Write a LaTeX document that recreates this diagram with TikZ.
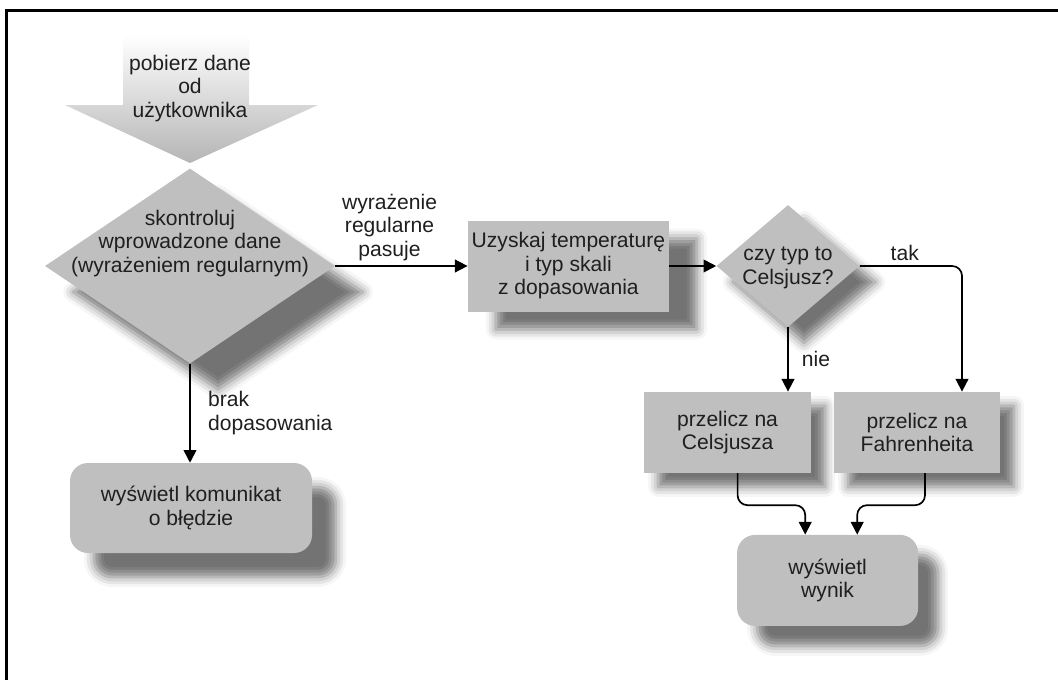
\documentclass[tikz,border=0pt]{standalone}
\usepackage{fontspec}
\setmainfont{Liberation Sans}
\usetikzlibrary{shapes.geometric,arrows.meta,shadows.blur}

\definecolor{boxgray}{gray}{0.75}
\tikzset{soft shadow/.style 2 args={blur shadow={shadow xshift=#1, shadow yshift=-#2, shadow blur radius=.25cm, shadow opacity=55}}}
\tikzstyle{every node}=[font=\fontsize{15}{16.7}\selectfont, align=center, text=black!88]
\tikzstyle{stepbox}=[rectangle, fill=boxgray, inner sep=0pt]
\tikzstyle{endbox}=[stepbox, rounded corners=.45cm]
\tikzstyle{decision}=[diamond, fill=boxgray, inner sep=0pt]

\begin{document}
\begin{tikzpicture}[>={Triangle[length=9pt,width=9pt]}]
    \useasboundingbox (0,0) rectangle (26.45,-16.975);
    \draw[line width=2.1pt] (0.1625,-17.2) -- (0.1625,-0.2625) -- (26.6,-0.2625);

    % input arrow
    \shade[top color=white, bottom color=black!29] (3.075,-0.875) -- (6.225,-0.875) -- (6.225,-2.625) -- (7.95,-2.625)
        -- (4.75,-4.075) -- (1.625,-2.625) -- (3.075,-2.625) -- cycle;
    \node (In) at (4.75,-2.21) {pobierz dane\\od\\użytkownika};

    \node[decision, soft shadow={.7cm}{.65cm}, minimum width=7.25cm, minimum height=4.875cm] (Chk) at (4.75,-6.65) {};
    \node (ChkTxt) at (4.75,-6.08) {skontroluj\\wprowadzone dane\\(wyrażeniem regularnym)};
    \node[stepbox, soft shadow={.7cm}{.45cm}, minimum width=5.025cm, minimum height=2.275cm] (Tmp) at (14.21,-6.65) {Uzyskaj temperaturę\\i typ skali\\z dopasowania};
    \node[decision, soft shadow={.4cm}{.4cm}, minimum width=3.575cm, minimum height=3.05cm] (Typ) at (19.7,-6.65) {};
    \node (TypTxt) at (19.7,-6.7) {czy typ to\\Celsjusz?};
    \node[stepbox, soft shadow={.35cm}{.35cm}, minimum width=4.175cm, minimum height=2.025cm] (C) at (18.19,-10.81) {przelicz na\\Celsjusza};
    \node[stepbox, soft shadow={.35cm}{.35cm}, minimum width=4.15cm, minimum height=2.025cm] (F) at (22.925,-10.81) {przelicz na\\Fahrenheita};
    \node[endbox, soft shadow={.5cm}{.5cm}, minimum width=4.525cm, minimum height=2.275cm] (Out) at (20.69,-14.51) {wyświetl\\wynik};
    \node[endbox, soft shadow={.6cm}{.6cm}, minimum width=6.05cm, minimum height=2.25cm] (Err) at (4.775,-12.7) {wyświetl komunikat\\o błędzie};
    \coordinate (T) at (24.05,-6.65);

    \draw[->, very thick] (Chk.east) -- (Tmp.west) node[above, pos=.41]{wyrażenie\\regularne\\pasuje};
    \draw[->, very thick] (Chk.south) -- (Chk.south |- Err.north) node[right=9pt, pos=.5, align=left]{brak\\dopasowania};
    \draw[->, very thick] (Tmp.east) -- (Typ.west);
    \draw[->, very thick] (Typ.south) -- (Typ.south |- C.north) node[right=6pt, pos=.5]{nie};
    \draw[->, very thick, rounded corners=7pt] (Typ.east) -- (T) node[above, pos=.44]{tak} -- (T |- F.north);
    \draw[->, very thick, rounded corners=7pt] ([xshift=.25cm]C.south) -- ++(0,-.8) -| ([xshift=-.56cm]Out.north);
    \draw[->, very thick, rounded corners=7pt] ([xshift=.2cm]F.south) -- ++(0,-.8) -| ([xshift=.74cm]Out.north);
\end{tikzpicture}
\end{document}
